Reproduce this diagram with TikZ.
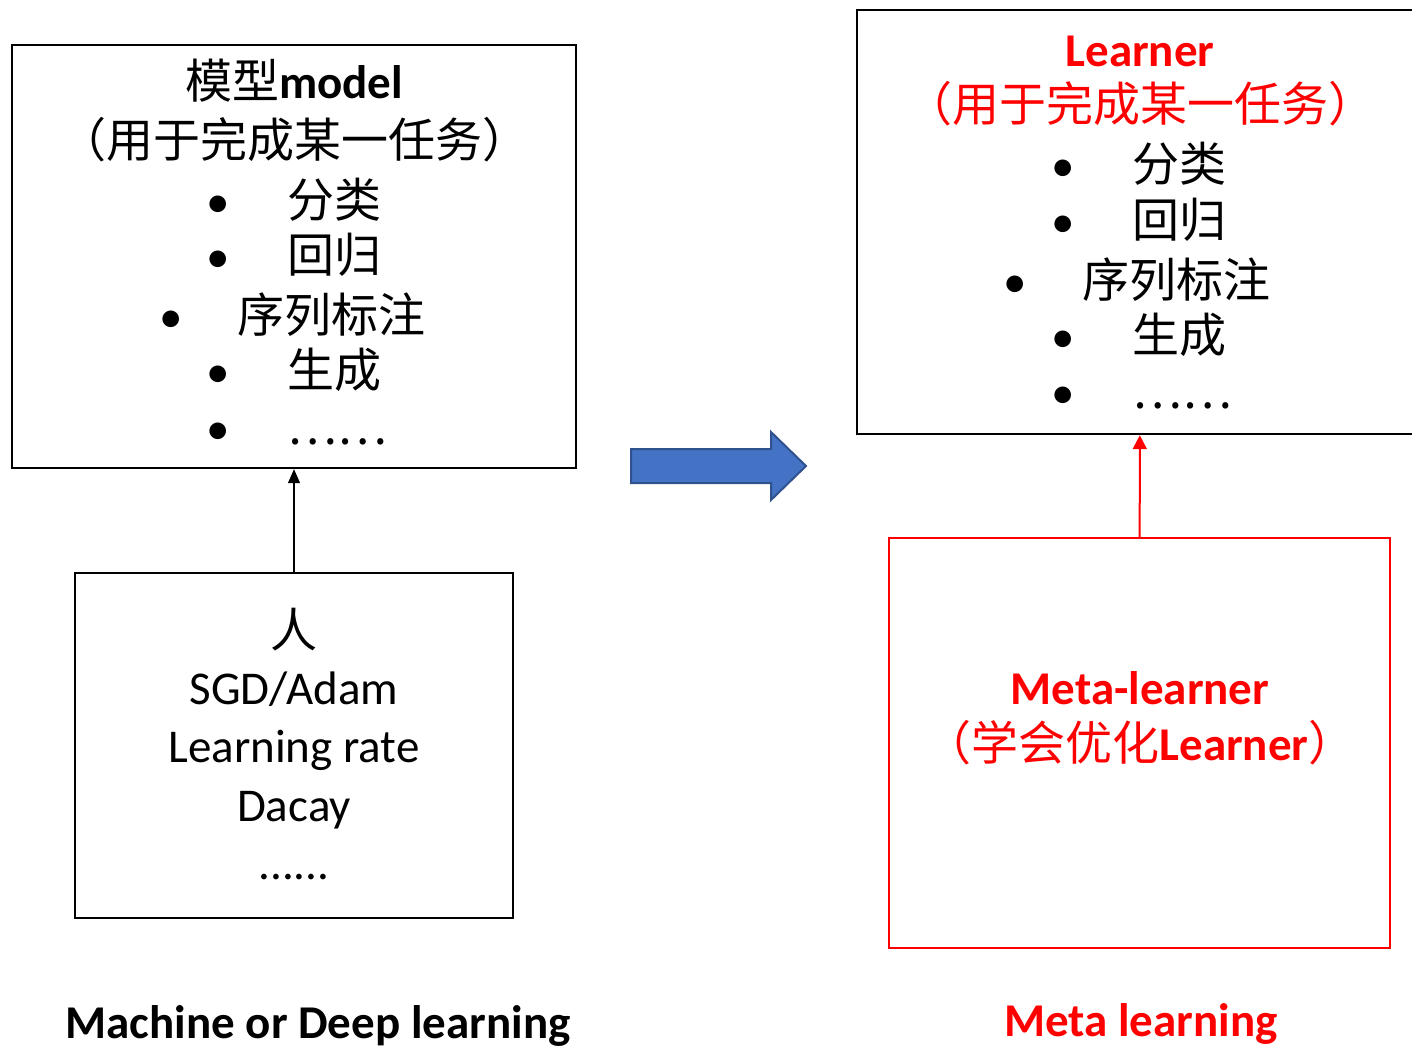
\documentclass[tikz,border=0pt]{standalone}
\usepackage{fontspec}
\setmainfont{Carlito}
\newfontfamily\cjk{Noto Sans CJK SC}
\newcommand{\zh}[1]{{\cjk\mdseries #1}}
\usetikzlibrary{arrows.meta}
\definecolor{metared}{RGB}{255,0,0}
\definecolor{shiftblue}{RGB}{68,114,196}
\definecolor{shiftedge}{RGB}{47,82,143}
\tikzset{
    panel/.style={
           rectangle,
           draw=black, line width=1.2pt,
           inner sep=0pt,
           },
    txt/.style={inner sep=0pt, font=\fontsize{23.5}{28}\selectfont},
    line/.style={txt, anchor=base},
    bul/.style={txt, anchor=base},
    item/.style={txt, anchor=base west},
}

\begin{document}
\begin{tikzpicture}[x=0.5pt,y=-0.5pt]
 \useasboundingbox (0,0) rectangle (1412,1048);

 % Left side: the model box
 \node[panel, minimum width=282pt, minimum height=211.5pt] (model) at (294,256.5) {};
 \node[line] (modeltitle) at (294,99) {\zh{模型}\textbf{model}};
 \node[line] (modeltask) at (294,158) {\zh{（用于完成某一任务）}};
 % bullet list
 \node[bul] (mb1) at (218,218) {•};
 \node[item] (m1) at (287,218) {\zh{分类}};
 \node[bul] (mb2) at (218,272) {•};
 \node[item] (m2) at (287,272) {\zh{回归}};
 \node[bul] (mb3) at (171,332) {•};
 \node[item] (m3) at (237,332) {\zh{序列标注}};
 \node[bul] (mb4) at (218,387) {•};
 \node[item] (m4) at (287,387) {\zh{生成}};
 \node[bul] (mb5) at (218,444) {•};
 \node[item] (m5) at (287,444) {\zh{……}};

 % Human box below the model
 \node[panel, minimum width=219pt, minimum height=172.5pt] (human) at (294,745.5) {};
 \node[line] (h1) at (294,647) {\zh{人}};
 \node[line] (h2) at (294,704) {SGD/Adam};
 \node[line] (h3) at (294,762) {Learning rate};
 \node[line] (h4) at (294,821) {Dacay};
 \node[line] (h5) at (294,879) {......};

 % Right side: the learner box (runs off the right edge)
 \node[panel, minimum width=283pt, minimum height=212pt] (learner) at (1140,222) {};
 \node[line, text=metared, font=\fontsize{23.5}{28}\selectfont\bfseries] (lrntitle) at (1140,67) {Learner};
 \node[line, text=metared] (lrntask) at (1140,122) {\zh{（用于完成某一任务）}};
 \node[bul] (lb1) at (1063,182) {•};
 \node[item] (l1) at (1132,182) {\zh{分类}};
 \node[bul] (lb2) at (1063,237) {•};
 \node[item] (l2) at (1132,237) {\zh{回归}};
 \node[bul] (lb3) at (1015,297) {•};
 \node[item] (l3) at (1082,297) {\zh{序列标注}};
 \node[bul] (lb4) at (1063,352) {•};
 \node[item] (l4) at (1132,352) {\zh{生成}};
 \node[bul] (lb5) at (1063,408) {•};
 \node[item] (l5) at (1132,408) {\zh{……}};

 % Meta-learner box
 \node[panel, draw=metared, line width=1pt, minimum width=250.5pt, minimum height=205pt] (meta) at (1139.5,743) {};
 \node[line, text=metared, font=\fontsize{23.5}{28}\selectfont\bfseries] (metatitle) at (1140,704) {Meta-learner};
 \node[line, text=metared] (metatask) at (1140,760) {\zh{（学会优化}\textbf{Learner}\zh{）}};

 % captions
 \node[line, font=\fontsize{23.5}{28}\selectfont\bfseries] (capml) at (318,1038) {Machine or Deep learning};
 \node[line, text=metared, font=\fontsize{23.5}{28}\selectfont\bfseries] (capmeta) at (1141,1036) {Meta learning};

 % big blue arrow in the middle
 \draw[fill=shiftblue, draw=shiftedge, line width=1pt]
   (631,449) -- (771,449) -- (771,432) -- (806,466) -- (771,500) -- (771,483) -- (631,483) -- cycle;

 % connectors
 \draw[-{Triangle[length=7pt,width=6pt]}, line width=0.6pt] (human) -- (model);
 \draw[-{Triangle[length=7pt,width=7pt]}, draw=metared, fill=metared, line width=1pt] (meta) -- (learner);
\end{tikzpicture}
\end{document}
